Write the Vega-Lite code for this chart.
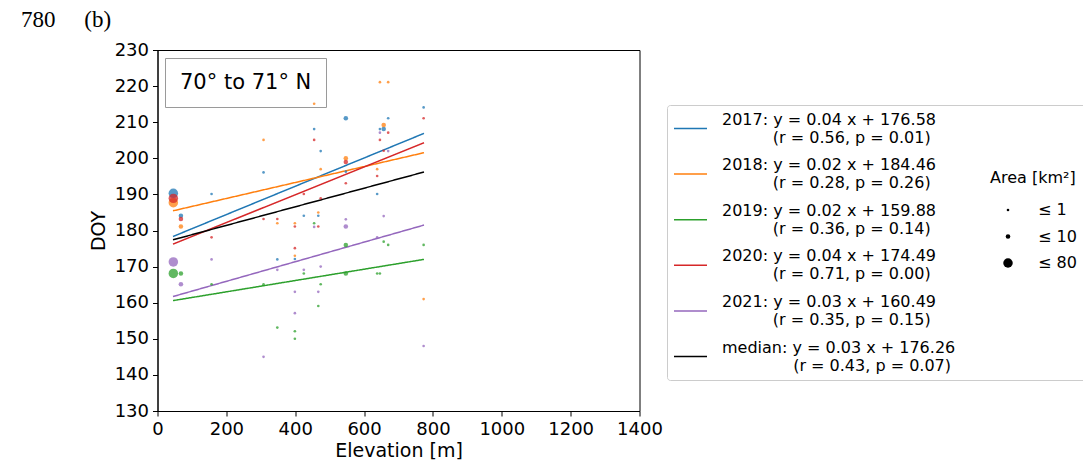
{
  "$schema": "https://vega.github.io/schema/vega-lite/v6.json",
  "width": 482,
  "height": 361,
  "autosize": {"type": "none"},
  "padding": {"left": 157.5, "top": 50, "right": 443.5, "bottom": 55},
  "background": "white",
  "title": {
    "text": "780\u00a0\u00a0\u00a0\u00a0\u00a0(b)",
    "font": "Liberation Serif",
    "fontSize": 23,
    "fontWeight": "normal",
    "color": "black",
    "anchor": "start",
    "frame": "group",
    "baseline": "alphabetic",
    "dx": -136.5,
    "dy": 31,
    "offset": 22
  },
  "datasets": {
    "fits": [
      {"series": "2017", "band": "70° to 71° N", "elev": 45, "doy": 178.34},
      {"series": "2017", "band": "70° to 71° N", "elev": 774, "doy": 206.9},
      {"series": "2018", "band": "70° to 71° N", "elev": 45, "doy": 185.45},
      {"series": "2018", "band": "70° to 71° N", "elev": 774, "doy": 201.55},
      {"series": "2019", "band": "70° to 71° N", "elev": 45, "doy": 160.58},
      {"series": "2019", "band": "70° to 71° N", "elev": 774, "doy": 172.0},
      {"series": "2020", "band": "70° to 71° N", "elev": 45, "doy": 176.22},
      {"series": "2020", "band": "70° to 71° N", "elev": 774, "doy": 204.3},
      {"series": "2021", "band": "70° to 71° N", "elev": 45, "doy": 161.71},
      {"series": "2021", "band": "70° to 71° N", "elev": 774, "doy": 181.5},
      {"series": "median", "band": "70° to 71° N", "elev": 45, "doy": 177.42},
      {"series": "median", "band": "70° to 71° N", "elev": 774, "doy": 196.2}
    ],
    "pts": [
      {"elev": 46, "doy": 190.3, "year": "2017", "areaMax": 80},
      {"elev": 46, "doy": 187.7, "year": "2018", "areaMax": 80},
      {"elev": 46, "doy": 168.1, "year": "2019", "areaMax": 80},
      {"elev": 46, "doy": 188.9, "year": "2020", "areaMax": 80},
      {"elev": 46, "doy": 171.3, "year": "2021", "areaMax": 80},
      {"elev": 68, "doy": 184.1, "year": "2017", "areaMax": 10},
      {"elev": 68, "doy": 181.1, "year": "2018", "areaMax": 10},
      {"elev": 68, "doy": 168.1, "year": "2019", "areaMax": 10},
      {"elev": 68, "doy": 183.2, "year": "2020", "areaMax": 10},
      {"elev": 68, "doy": 165.1, "year": "2021", "areaMax": 10},
      {"elev": 157, "doy": 190.1, "year": "2017", "areaMax": 1},
      {"elev": 157, "doy": 165.1, "year": "2019", "areaMax": 1},
      {"elev": 157, "doy": 178.1, "year": "2020", "areaMax": 1},
      {"elev": 157, "doy": 172.0, "year": "2021", "areaMax": 1},
      {"elev": 308, "doy": 196.1, "year": "2017", "areaMax": 1},
      {"elev": 308, "doy": 205.1, "year": "2018", "areaMax": 1},
      {"elev": 308, "doy": 165.1, "year": "2019", "areaMax": 1},
      {"elev": 308, "doy": 183.2, "year": "2020", "areaMax": 1},
      {"elev": 308, "doy": 145.0, "year": "2021", "areaMax": 1},
      {"elev": 348, "doy": 172.0, "year": "2017", "areaMax": 1},
      {"elev": 348, "doy": 182.0, "year": "2018", "areaMax": 1},
      {"elev": 348, "doy": 153.1, "year": "2019", "areaMax": 1},
      {"elev": 348, "doy": 183.2, "year": "2020", "areaMax": 1},
      {"elev": 348, "doy": 169.1, "year": "2021", "areaMax": 1},
      {"elev": 399, "doy": 172.1, "year": "2017", "areaMax": 1},
      {"elev": 399, "doy": 182.0, "year": "2018", "areaMax": 1},
      {"elev": 399, "doy": 173.0, "year": "2018", "areaMax": 1},
      {"elev": 399, "doy": 152.1, "year": "2019", "areaMax": 1},
      {"elev": 399, "doy": 150.0, "year": "2019", "areaMax": 1},
      {"elev": 399, "doy": 181.1, "year": "2020", "areaMax": 1},
      {"elev": 399, "doy": 175.1, "year": "2020", "areaMax": 1},
      {"elev": 399, "doy": 163.0, "year": "2021", "areaMax": 1},
      {"elev": 399, "doy": 157.1, "year": "2021", "areaMax": 1},
      {"elev": 425, "doy": 184.1, "year": "2017", "areaMax": 1},
      {"elev": 425, "doy": 168.1, "year": "2019", "areaMax": 1},
      {"elev": 425, "doy": 190.1, "year": "2020", "areaMax": 1},
      {"elev": 425, "doy": 169.1, "year": "2021", "areaMax": 1},
      {"elev": 455, "doy": 208.1, "year": "2017", "areaMax": 1},
      {"elev": 455, "doy": 215.1, "year": "2018", "areaMax": 1},
      {"elev": 455, "doy": 182.0, "year": "2019", "areaMax": 1},
      {"elev": 455, "doy": 205.1, "year": "2020", "areaMax": 1},
      {"elev": 455, "doy": 181.0, "year": "2021", "areaMax": 1},
      {"elev": 467, "doy": 184.1, "year": "2017", "areaMax": 1},
      {"elev": 467, "doy": 185.0, "year": "2018", "areaMax": 1},
      {"elev": 467, "doy": 159.1, "year": "2019", "areaMax": 1},
      {"elev": 467, "doy": 181.1, "year": "2020", "areaMax": 1},
      {"elev": 467, "doy": 163.0, "year": "2021", "areaMax": 1},
      {"elev": 474, "doy": 202.0, "year": "2017", "areaMax": 1},
      {"elev": 474, "doy": 197.0, "year": "2018", "areaMax": 1},
      {"elev": 474, "doy": 165.1, "year": "2019", "areaMax": 1},
      {"elev": 474, "doy": 188.9, "year": "2020", "areaMax": 1},
      {"elev": 474, "doy": 170.0, "year": "2021", "areaMax": 1},
      {"elev": 547, "doy": 211.1, "year": "2017", "areaMax": 10},
      {"elev": 547, "doy": 196.3, "year": "2017", "areaMax": 1},
      {"elev": 547, "doy": 200.0, "year": "2018", "areaMax": 10},
      {"elev": 547, "doy": 176.0, "year": "2019", "areaMax": 10},
      {"elev": 547, "doy": 168.1, "year": "2019", "areaMax": 10},
      {"elev": 547, "doy": 199.0, "year": "2020", "areaMax": 10},
      {"elev": 547, "doy": 193.1, "year": "2020", "areaMax": 1},
      {"elev": 547, "doy": 183.1, "year": "2021", "areaMax": 1},
      {"elev": 547, "doy": 181.1, "year": "2021", "areaMax": 10},
      {"elev": 638, "doy": 190.1, "year": "2017", "areaMax": 1},
      {"elev": 638, "doy": 197.0, "year": "2018", "areaMax": 1},
      {"elev": 638, "doy": 168.1, "year": "2019", "areaMax": 1},
      {"elev": 638, "doy": 195.1, "year": "2020", "areaMax": 1},
      {"elev": 638, "doy": 178.1, "year": "2021", "areaMax": 1},
      {"elev": 646, "doy": 208.1, "year": "2017", "areaMax": 1},
      {"elev": 646, "doy": 221.1, "year": "2018", "areaMax": 1},
      {"elev": 646, "doy": 168.1, "year": "2019", "areaMax": 1},
      {"elev": 646, "doy": 205.1, "year": "2020", "areaMax": 1},
      {"elev": 646, "doy": 207.1, "year": "2021", "areaMax": 1},
      {"elev": 657, "doy": 208.1, "year": "2017", "areaMax": 10},
      {"elev": 657, "doy": 209.2, "year": "2018", "areaMax": 10},
      {"elev": 657, "doy": 176.9, "year": "2019", "areaMax": 1},
      {"elev": 657, "doy": 202.1, "year": "2020", "areaMax": 1},
      {"elev": 657, "doy": 184.0, "year": "2021", "areaMax": 1},
      {"elev": 670, "doy": 211.1, "year": "2017", "areaMax": 1},
      {"elev": 670, "doy": 221.1, "year": "2018", "areaMax": 1},
      {"elev": 670, "doy": 176.0, "year": "2019", "areaMax": 1},
      {"elev": 670, "doy": 207.1, "year": "2020", "areaMax": 1},
      {"elev": 670, "doy": 202.0, "year": "2021", "areaMax": 1},
      {"elev": 773, "doy": 214.1, "year": "2017", "areaMax": 1},
      {"elev": 773, "doy": 161.0, "year": "2018", "areaMax": 1},
      {"elev": 773, "doy": 176.0, "year": "2019", "areaMax": 1},
      {"elev": 773, "doy": 211.1, "year": "2020", "areaMax": 1},
      {"elev": 773, "doy": 148.0, "year": "2021", "areaMax": 1}
    ]
  },
  "encoding": {
    "x": {
      "field": "elev", "type": "quantitative",
      "scale": {"domain": [0, 1400], "nice": false},
      "axis": {"title": "Elevation [m]", "format": "d", "labelOverlap": false, "values": [0, 200, 400, 600, 800, 1000, 1200, 1400]}
    },
    "y": {
      "field": "doy", "type": "quantitative",
      "scale": {"domain": [130, 230], "nice": false, "zero": false},
      "axis": {"title": "DOY", "format": "d", "labelOverlap": false, "labelSeparation": 0, "tickCount": 11, "values": [130, 140, 150, 160, 170, 180, 190, 200, 210, 220, 230]}
    }
  },
  "layer": [
    {
      "data": {"name": "fits"},
      "mark": {"type": "line", "strokeWidth": 1.5},
      "encoding": {
        "color": {
          "field": "series", "type": "nominal",
          "scale": {
            "domain": ["2017", "2018", "2019", "2020", "2021", "median"],
            "range": ["#1f77b4", "#ff7f0e", "#2ca02c", "#d62728", "#9467bd", "#000000"]
          },
          "legend": {
            "orient": "none",
            "legendX": 509.5,
            "legendY": 55,
            "title": null,
            "padding": 6,
            "strokeColor": "#cccccc",
            "fillColor": "white",
            "cornerRadius": 3,
            "symbolType": "stroke",
            "symbolSize": 1089,
            "symbolStrokeWidth": 1.5,
            "labelFont": "DejaVu Sans",
            "labelFontSize": 16,
            "labelColor": "black",
            "labelBaseline": "line-bottom",
            "labelOffset": 14,
            "labelLimit": 0,
            "rowPadding": 10.6,
            "labelExpr": "datum.label === '2017' ? ['2017: y = 0.04 x + 176.58', '\u200b\u00a0\u00a0\u00a0\u00a0\u00a0\u00a0\u00a0\u00a0\u00a0\u00a0(r = 0.56, p = 0.01)'] : datum.label === '2018' ? ['2018: y = 0.02 x + 184.46', '\u200b\u00a0\u00a0\u00a0\u00a0\u00a0\u00a0\u00a0\u00a0\u00a0\u00a0(r = 0.28, p = 0.26)'] : datum.label === '2019' ? ['2019: y = 0.02 x + 159.88', '\u200b\u00a0\u00a0\u00a0\u00a0\u00a0\u00a0\u00a0\u00a0\u00a0\u00a0(r = 0.36, p = 0.14)'] : datum.label === '2020' ? ['2020: y = 0.04 x + 174.49', '\u200b\u00a0\u00a0\u00a0\u00a0\u00a0\u00a0\u00a0\u00a0\u00a0\u00a0(r = 0.71, p = 0.00)'] : datum.label === '2021' ? ['2021: y = 0.03 x + 160.49', '\u200b\u00a0\u00a0\u00a0\u00a0\u00a0\u00a0\u00a0\u00a0\u00a0\u00a0(r = 0.35, p = 0.15)'] : ['median: y = 0.03 x + 176.26\u00a0\u00a0\u00a0\u00a0\u00a0\u00a0\u00a0\u00a0\u00a0\u00a0\u00a0\u00a0\u00a0\u00a0\u00a0\u00a0\u00a0\u00a0\u00a0\u00a0\u00a0\u00a0\u00a0\u00a0\u00a0\u200b', '\u200b\u00a0\u00a0\u00a0\u00a0\u00a0\u00a0\u00a0\u00a0\u00a0\u00a0\u00a0\u00a0\u00a0\u00a0(r = 0.43, p = 0.07)']"
          }
        },
        "strokeDash": {
          "field": "band", "type": "nominal",
          "scale": {"range": [[1, 0]]},
          "legend": {
            "orient": "none",
            "legendX": 7.5,
            "legendY": 8,
            "title": null,
            "padding": 14,
            "strokeColor": "#9a9a9a",
            "fillColor": "transparent",
            "symbolSize": 0,
            "symbolStrokeWidth": 0,
            "symbolOpacity": 0,
            "labelOffset": -20,
            "labelFont": "DejaVu Sans",
            "labelFontSize": 21,
            "labelColor": "black",
            "labelLimit": 0
          }
        }
      }
    },
    {
      "data": {"name": "pts"},
      "mark": {"type": "circle", "opacity": 0.75},
      "encoding": {
        "fill": {
          "field": "year", "type": "nominal",
          "scale": {
            "domain": ["2017", "2018", "2019", "2020", "2021"],
            "range": ["#1f77b4", "#ff7f0e", "#2ca02c", "#d62728", "#9467bd"]
          },
          "legend": null
        },
        "size": {
          "field": "areaMax", "type": "quantitative",
          "scale": {"type": "pow", "exponent": 0.79, "domain": [1, 80], "range": [7, 90], "zero": false},
          "legend": {
            "orient": "none",
            "legendX": 832.5,
            "legendY": 120,
            "values": [1, 10, 80],
            "labelExpr": "'≤ ' + datum.label",
            "title": "Area [km²]",
            "titleFont": "DejaVu Sans",
            "titleFontSize": 16,
            "titleFontWeight": "normal",
            "titleColor": "black",
            "titlePadding": 16,
            "padding": 0,
            "symbolType": "circle",
            "symbolFillColor": "black",
            "symbolStrokeColor": "black",
            "symbolStrokeWidth": 0,
            "symbolOpacity": 1,
            "symbolOffset": 10,
            "labelOffset": 22,
            "labelFont": "DejaVu Sans",
            "labelFontSize": 16,
            "labelColor": "black",
            "rowPadding": 10.5
          }
        }
      }
    }
  ],
  "config": {
    "font": "DejaVu Sans",
    "view": {"stroke": "black", "strokeWidth": 1},
    "axis": {
      "grid": false,
      "domainColor": "black",
      "tickColor": "black",
      "tickSize": 5,
      "labelColor": "black",
      "labelFont": "DejaVu Sans",
      "labelFontSize": 18,
      "labelPadding": 4,
      "labelFlush": false,
      "labelOverlap": false,
      "titleColor": "black",
      "titleFont": "DejaVu Sans",
      "titleFontSize": 19,
      "titleFontWeight": "normal"
    },
    "axisY": {"titlePadding": 6, "labelOverlap": false},
    "axisX": {"titlePadding": 3}
  }
}
